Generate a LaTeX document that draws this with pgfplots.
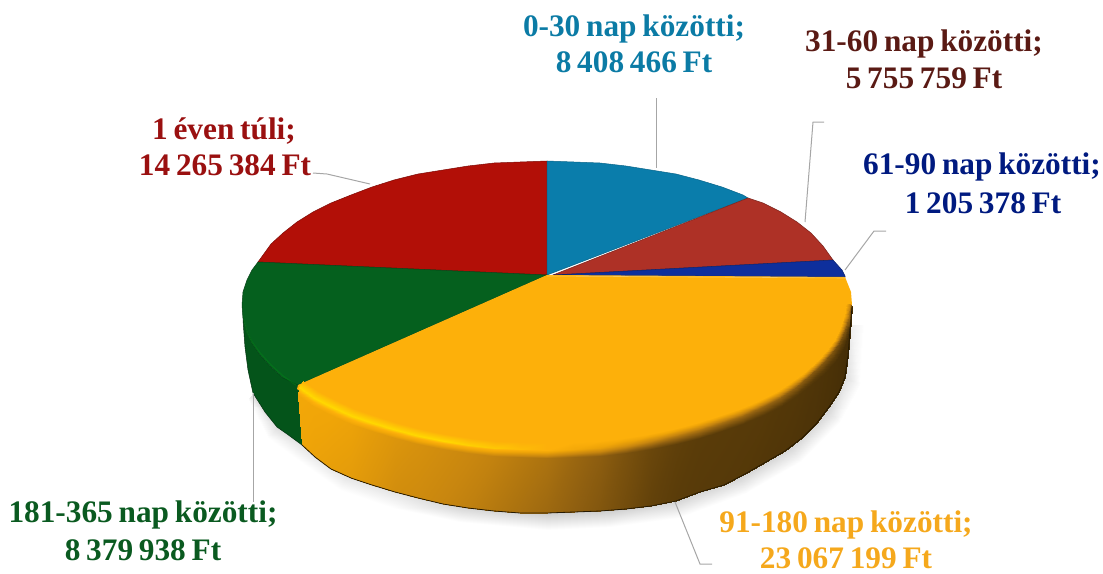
\documentclass[border=0pt]{standalone}
\usepackage{fontspec}
\setmainfont[WordSpace=0.74]{Liberation Serif}
\usepackage{pgfplots}
\usepackage{pgfplotstable}
\pgfplotsset{compat=1.18}
\definecolor{cBlue}{RGB}{10,125,171}
\definecolor{cBrown}{RGB}{174,49,38}
\definecolor{cNavy}{RGB}{14,47,156}
\definecolor{cYellow}{RGB}{253,176,10}
\definecolor{cGreen}{RGB}{5,96,30}
\definecolor{cRed}{RGB}{178,15,7}
\definecolor{cLead}{RGB}{166,166,166}
\definecolor{tBlue}{RGB}{11,123,165}
\definecolor{tBrown}{RGB}{90,26,20}
\definecolor{tNavy}{RGB}{0,26,128}
\definecolor{tRed}{RGB}{154,16,16}
\definecolor{tGreen}{RGB}{10,90,32}
\definecolor{tYellow}{RGB}{245,168,28}

% side wall of the yellow slice: 30 columns of 4 points (bevel, crest, wall top, bottom)
\pgfplotstableread{
x y c
303 381 .1
299 387 0
298 395 .18
302 445 .2
318 391 .1
314 398 0
313 406 .19
315 457 .22
336 400 .1
332 407 0
331 415 .2
331 469 .24
355 409 .1
352 416 0
351 424 .22
351 478 .26
376 416 .1
373 423 0
372 431 .26
372 485 .3
398 423 .1
396 430 0
395 438 .3
395 492 .35
421 429 .1
419 436 0
418 444 .33
418 498 .37
445 434 .1
444 441 0
443 449 .36
443 504 .4
470 438 .1
468 445 .02
468 453 .39
468 508 .43
495 441 .1
494 448 .04
494 456 .42
494 511 .47
521 442 .1
520 449 .07
520 457 .46
520 513 .51
547 443 .1
547 450 .1
547 458 .5
547 513 .55
574 442 .1
574 449 .17
574 457 .56
574 512 .6
599 441 .1
600 448 .24
600 456 .61
600 511 .65
624 438 .1
626 445 .32
626 453 .68
626 509 .71
649 434 .1
651 441 .4
651 449 .74
651 506 .77
673 429 .1
675 436 .46
676 444 .78
676 501 .8
696 423 .1
699 430 .49
700 438 .8
700 492 .82
718 416 .1
721 423 .52
722 431 .81
724 485 .83
739 409 .1
742 416 .55
743 424 .82
745 474 .84
758 401 .1
762 407 .57
764 415 .83
766 462 .86
776 392 .1
780 398 .59
782 406 .85
785 451 .87
791 382 .1
796 387 .61
798 395 .86
802 438 .89
805 372 .1
809 376 .63
812 384 .88
816 424 .9
817 361 .1
821 365 .65
825 373 .9
829 407 .92
827 350 .1
832 353 .67
836 361 .92
839 392 .94
835 339 .1
840 342 .7
844 348 .95
845 377 .97
840 328 .1
845 330 .65
848 336 .95
848 355 1
844 316 .1
849 317 .55
851 321 .95
850 330 1
846 304 .1
850 304 .4
852 306 .9
852 307 1
}\wallpts

% soft shadow under the pie: edge point, then outer point
\pgfplotstableread{
x y c
253 393 .5
248 400 1
277 427 .6
268 438 1
302 445 .7
295 458 1
347 477 .7
340 490 1
397 493 .7
393 508 1
463 507 .5
460 522 1
547 513 .4
547 530 1
607 510 .4
610 527 1
673 502 .5
678 518 1
740 477 .5
746 493 1
790 447 .5
800 462 1
827 410 .5
840 422 1
845 377 .6
860 385 1
851 325 .8
864 325 1
}\shadowpts

\begin{document}
\begin{tikzpicture}
\useasboundingbox (0,0) rectangle (1103pt,573pt);
\begin{axis}[
  at={(0,0)}, anchor=south west,
  scale only axis,
  width=1103pt, height=573pt,
  xmin=0, xmax=1103, ymin=0, ymax=573,
  y dir=reverse,
  hide axis,
  clip=false,
  point meta min=0, point meta max=1,
  colormap={wall}{rgb255(0cm)=(255,216,0); rgb255(1cm)=(253,176,10); rgb255(2cm)=(240,165,8);
    rgb255(4cm)=(200,134,15); rgb255(6cm)=(143,95,16); rgb255(8cm)=(90,60,9); rgb255(10cm)=(63,42,6)},
  colormap={shade}{rgb255(0cm)=(170,170,170); rgb255(1cm)=(255,255,255)},
]
% shadow
\addplot[patch, patch type=rectangle, shader=interp, colormap name=shade,
  point meta=explicit, table/row sep=\\,
  patch table={0 2 3 1\\ 2 4 5 3\\ 4 6 7 5\\ 6 8 9 7\\ 8 10 11 9\\ 10 12 13 11\\ 12 14 15 13\\
    14 16 17 15\\ 16 18 19 17\\ 18 20 21 19\\ 20 22 23 21\\ 22 24 25 23\\ 24 26 27 25\\}]
  table[x=x, y=y, meta=c] {\shadowpts};

% green wall
\addplot[fill=black!12!cGreen, draw=none] coordinates {
  (300,380) (283,378) (271,367) (260,355) (252,343) (247,331) (243,318) (242,305)
  (243,320) (245,347) (248,370) (253,393) (265,412) (277,427) (287,434) (302,445)} --cycle;

% slices of the top face
\addplot[fill=cRed, draw=cRed!70!black, line width=.5pt] coordinates {
  (547,275) (258,262) (271,244) (283,233) (297,222) (313,212) (331,203) (351,195) (372,187)
  (394,180) (418,174) (443,170) (468,166) (494,163) (520,162) (547,161)} --cycle;
\addplot[fill=cBlue, draw=cBlue!80!black, line width=.5pt] coordinates {
  (547,275) (547,161) (574,162) (600,163) (626,166) (651,170) (676,174) (699,180)
  (722,187) (743,195) (748,198)} --cycle;
\addplot[fill=cBrown, draw=cBrown!70!black, line width=.5pt] coordinates {
  (553,275) (748,198) (763,203) (781,212) (797,222) (811,233) (823,246) (833,260)} --cycle;
\addplot[fill=cNavy, draw=cNavy!70!black, line width=.5pt] coordinates {
  (553,275) (833,260) (842,270) (845,276) (845,277)} --cycle;
\addplot[fill=cGreen, draw=cGreen!70!black, line width=.5pt] coordinates {
  (547,275) (298,385) (283,378) (271,367) (260,355) (252,343) (247,331) (243,318) (242,305)
  (243,292) (247,280) (252,270) (258,262)} --cycle;
\addplot[fill=cYellow, draw=none] coordinates {
  (547,275) (845,277) (851,292) (852,305) (851,318) (847,331) (842,343) (834,355) (823,367)
  (811,378) (797,389) (781,400) (763,409) (743,418) (722,425) (700,432) (676,438) (651,443)
  (626,447) (600,450) (574,451) (547,452) (520,451) (494,450) (468,447) (443,443) (418,438)
  (395,432) (372,425) (351,418) (331,409) (313,400) (297,389) (298,385)} --cycle;
\addplot[draw=cYellow!70!white, line width=.6pt] coordinates {(547,276) (845,278)};

% yellow wall with its bevel
\addplot[patch, patch type=rectangle, shader=interp, colormap name=wall,
  point meta=explicit, table/row sep=\\,
  patch table={
    0 4 5 1\\ 1 5 6 2\\ 2 6 7 3\\
    4 8 9 5\\ 5 9 10 6\\ 6 10 11 7\\
    8 12 13 9\\ 9 13 14 10\\ 10 14 15 11\\
    12 16 17 13\\ 13 17 18 14\\ 14 18 19 15\\
    16 20 21 17\\ 17 21 22 18\\ 18 22 23 19\\
    20 24 25 21\\ 21 25 26 22\\ 22 26 27 23\\
    24 28 29 25\\ 25 29 30 26\\ 26 30 31 27\\
    28 32 33 29\\ 29 33 34 30\\ 30 34 35 31\\
    32 36 37 33\\ 33 37 38 34\\ 34 38 39 35\\
    36 40 41 37\\ 37 41 42 38\\ 38 42 43 39\\
    40 44 45 41\\ 41 45 46 42\\ 42 46 47 43\\
    44 48 49 45\\ 45 49 50 46\\ 46 50 51 47\\
    48 52 53 49\\ 49 53 54 50\\ 50 54 55 51\\
    52 56 57 53\\ 53 57 58 54\\ 54 58 59 55\\
    56 60 61 57\\ 57 61 62 58\\ 58 62 63 59\\
    60 64 65 61\\ 61 65 66 62\\ 62 66 67 63\\
    64 68 69 65\\ 65 69 70 66\\ 66 70 71 67\\
    68 72 73 69\\ 69 73 74 70\\ 70 74 75 71\\
    72 76 77 73\\ 73 77 78 74\\ 74 78 79 75\\
    76 80 81 77\\ 77 81 82 78\\ 78 82 83 79\\
    80 84 85 81\\ 81 85 86 82\\ 82 86 87 83\\
    84 88 89 85\\ 85 89 90 86\\ 86 90 91 87\\
    88 92 93 89\\ 89 93 94 90\\ 90 94 95 91\\
    92 96 97 93\\ 93 97 98 94\\ 94 98 99 95\\
    96 100 101 97\\ 97 101 102 98\\ 98 102 103 99\\
    100 104 105 101\\ 101 105 106 102\\ 102 106 107 103\\
    104 108 109 105\\ 105 109 110 106\\ 106 110 111 107\\
    108 112 113 109\\ 109 113 114 110\\ 110 114 115 111\\
    112 116 117 113\\ 113 117 118 114\\ 114 118 119 115\\}]
  table[x=x, y=y, meta=c] {\wallpts};

% rim lines
\addplot[draw=green!30!cGreen, opacity=.3, line width=1.5pt] coordinates {
  (296,385) (283,376) (271,365) (260,353) (252,342) (247,332) (244,320)};
\addplot[draw=black!85!cYellow, line width=.8pt] coordinates {
  (302,445) (315,457) (331,469) (351,478) (372,485) (395,492) (418,498) (443,504) (468,508)
  (494,511) (520,513) (547,513) (574,512) (600,511) (626,509) (651,506) (676,501) (700,492)
  (724,485) (745,474) (766,462) (785,451) (802,438) (816,424) (829,407) (839,392) (845,377)
  (848,355) (850,330) (852,307)};
\addplot[draw=black!50!cGreen, line width=.5pt] coordinates {
  (302,445) (287,434) (277,427) (265,412) (253,393) (248,370) (245,347) (243,320)};

% leader lines
\addplot[cLead, line width=1pt] coordinates {(656,98) (656,168)};
\addplot[cLead, line width=1pt] coordinates {(824,122) (813,122) (805,222)};
\addplot[cLead, line width=1pt] coordinates {(886,231) (874,231) (845,270)};
\addplot[cLead, line width=1pt] coordinates {(313,173) (327,174) (370,184)};
\addplot[cLead, line width=1pt] coordinates {(253,393) (253,502)};
\addplot[cLead, line width=1pt] coordinates {(675,502) (700,564) (712,564)};

% labels
\tikzset{lab/.style={font=\fontsize{31.3}{33}\selectfont\bfseries, inner sep=0pt, anchor=center}}
\node[lab, text=tBlue] at (axis cs:634,29) {0-30 nap közötti;};
\node[lab, text=tBlue] at (axis cs:634,62) {8 408 466 Ft};
\node[lab, text=tBrown] at (axis cs:924,44) {31-60 nap közötti;};
\node[lab, text=tBrown] at (axis cs:924,78) {5 755 759 Ft};
\node[lab, text=tNavy] at (axis cs:982,167) {61-90 nap közötti;};
\node[lab, text=tNavy] at (axis cs:983,203) {1 205 378 Ft};
\node[lab, text=tRed] at (axis cs:224,131) {1 éven túli;};
\node[lab, text=tRed] at (axis cs:225,165) {14 265 384 Ft};
\node[lab, text=tGreen] at (axis cs:143,515) {181-365 nap közötti;};
\node[lab, text=tGreen] at (axis cs:143,550) {8 379 938 Ft};
\node[lab, text=tYellow] at (axis cs:846,525) {91-180 nap közötti;};
\node[lab, text=tYellow] at (axis cs:846,558) {23 067 199 Ft};
\end{axis}
\end{tikzpicture}
\end{document}
